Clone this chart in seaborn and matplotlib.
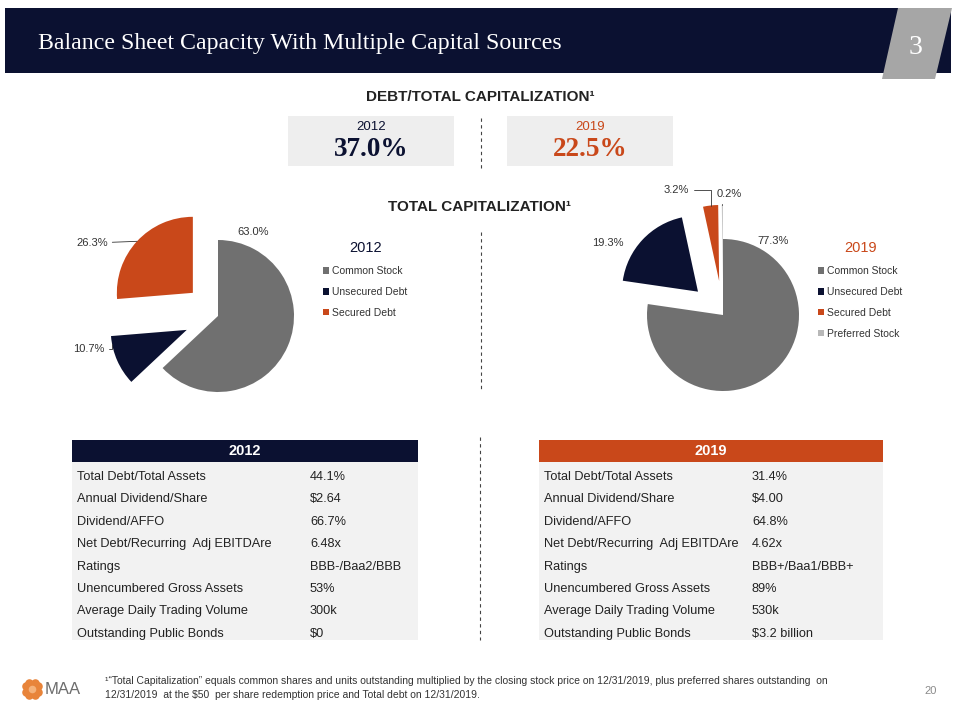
import numpy as np
import matplotlib
matplotlib.use('Agg')
import matplotlib.pyplot as plt
import seaborn as sns
from matplotlib.patches import Rectangle, Polygon

# ---------------------------------------------------------------- data
categories_2012 = ['Common Stock', 'Unsecured Debt', 'Secured Debt']
shares_2012 = [63.0, 10.7, 26.3]
categories_2019 = ['Common Stock', 'Unsecured Debt', 'Secured Debt', 'Preferred Stock']
shares_2019 = [77.3, 19.3, 3.2, 0.2]

debt_cap_years = ['2012', '2019']
debt_cap_values = [37.0, 22.5]

metrics = ['Total Debt/Total Assets', 'Annual Dividend/Share', 'Dividend/AFFO',
           'Net Debt/Recurring  Adj EBITDAre', 'Ratings', 'Unencumbered Gross Assets',
           'Average Daily Trading Volume', 'Outstanding Public Bonds']
values_2012 = ['44.1%', '$2.64', '66.7%', '6.48x', 'BBB-/Baa2/BBB', '53%', '300k', '$0']
values_2019 = ['31.4%', '$4.00', '64.8%', '4.62x', 'BBB+/Baa1/BBB+', '89%', '530k', '$3.2 billion']

footnote = ('\u00b9\u201cTotal Capitalization\u201d equals common shares and units outstanding multiplied by the closing '
            'stock price on 12/31/2019, plus preferred shares outstanding  on\n'
            '12/31/2019  at the $50  per share redemption price and Total debt on 12/31/2019.')

# ---------------------------------------------------------------- style
sns.set_theme(style='white')
plt.rcParams['font.family'] = ['Liberation Sans', 'DejaVu Sans']
NAVY = '#0b1131'
ORANGE = '#c9481a'
GRAY = '#707070'
LGRAY = '#b8b8b8'
pie_colors_2012 = [GRAY, NAVY, ORANGE]
pie_colors_2019 = [GRAY, NAVY, ORANGE, LGRAY]

fig = plt.figure(figsize=(9.6, 7.2), dpi=100)
bg = fig.add_axes([0, 0, 1, 1])
bg.set_xlim(0, 960)
bg.set_ylim(720, 0)
bg.axis('off')

# header bar
bg.add_patch(Rectangle((5, 8), 946, 65, color=NAVY, lw=0))
bg.add_patch(Polygon([(898, 8), (952, 8), (935, 79), (882, 79)], closed=True, color='#a6a6a6', lw=0))
bg.text(38, 43, 'Balance Sheet Capacity With Multiple Capital Sources', color='white',
        fontsize=17.2, family='Liberation Serif', va='center')
bg.text(915, 47, '3', color='white', fontsize=20, family='Liberation Serif', ha='center', va='center')

# debt / total capitalization boxes
bg.text(480, 97, 'DEBT/TOTAL CAPITALIZATION\u00b9', fontsize=11, fontweight='bold', color='#222222',
        ha='center', va='center')
for i, (yr, val) in enumerate(zip(debt_cap_years, debt_cap_values)):
    x0 = 288 + i * 219
    col = NAVY if i == 0 else ORANGE
    bg.add_patch(Rectangle((x0, 116), 166, 50, color='#eeeeee', lw=0))
    bg.text(x0 + 83, 127, yr, fontsize=9.5, color=col, ha='center', va='center')
    bg.text(x0 + 83, 150, f'{val:.1f}%', fontsize=19.5, fontweight='bold', color=col,
            family='Liberation Serif', ha='center', va='center')
bg.plot([481, 481], [118, 168], color='#444444', lw=0.8, ls=(0, (3, 3)))

bg.text(480, 207, 'TOTAL CAPITALIZATION\u00b9', fontsize=11, fontweight='bold', color='#222222',
        ha='center', va='center')
bg.plot([481, 481], [232, 392], color='#444444', lw=0.8, ls=(0, (3, 3)))
bg.plot([480, 480], [437, 640], color='#444444', lw=0.8, ls=(0, (3, 3)))


# ---------------------------------------------------------------- pies
def pie_axes(cx, cy, r):
    return fig.add_axes([(cx - 2 * r) / 960, 1 - (cy + 2 * r) / 720, 4 * r / 960, 4 * r / 720])


def draw_pie(ax, shares, colors, explode, labels_layout):
    wedges, _ = ax.pie(shares, colors=colors, explode=explode, startangle=90, counterclock=False,
                       wedgeprops=dict(linewidth=0))
    ax.set_xlim(-2, 2)
    ax.set_ylim(-2, 2)
    ax.set_aspect('equal')
    ax.axis('off')
    for w, val, (tx, ty, frac, leader, style) in zip(wedges, shares, labels_layout):
        ang = np.deg2rad(w.theta1 + frac * (w.theta2 - w.theta1))
        px = w.center[0] + w.r * np.cos(ang)
        py = w.center[1] + w.r * np.sin(ang)
        props = dict(arrowstyle='-', color='#333333', lw=0.6, shrinkA=1, shrinkB=0,
                     connectionstyle=style) if leader else None
        ax.annotate(f'{val:.1f}%', xy=(px, py), xytext=(tx, ty), fontsize=8, color='#333333',
                    ha='center', va='center', arrowprops=props)
    return wedges


def add_legend(ax, wedges, cats, title, x, tcol):
    leg = ax.legend(wedges, cats, loc='upper left', bbox_to_anchor=(x / 960, 1 - 236 / 720),
                    bbox_transform=fig.transFigure, frameon=False, title=title, fontsize=7.5,
                    handlelength=0.55, handleheight=0.55, handletextpad=0.3, labelspacing=1.05,
                    borderpad=0, title_fontproperties={'size': 10.5})
    leg.get_title().set_color(tcol)
    for t in leg.get_texts():
        t.set_color('#333333')


ax1 = pie_axes(218, 316, 76)
w1 = draw_pie(ax1, shares_2012, pie_colors_2012, [0, 0.45, 0.45],
              [(0.46, 1.10, 0.5, False, None),
               (-1.70, -0.43, 0.15, True, 'angle,angleA=0,angleB=90,rad=0'),
               (-1.66, 0.96, 0.5, True, 'arc3')])
add_legend(ax1, w1, categories_2012, '2012', 318, NAVY)

ax2 = pie_axes(723, 315, 76)
w2 = draw_pie(ax2, shares_2019, pie_colors_2019, [0, 0.45, 0.45, 0.45],
              [(0.66, 0.97, 0.5, False, None),
               (-1.51, 0.95, 0.5, False, None),
               (-0.61, 1.64, 0.5, True, 'angle,angleA=0,angleB=90,rad=0'),
               (0.08, 1.59, 0.5, True, 'angle,angleA=180,angleB=90,rad=0')])
add_legend(ax2, w2, categories_2019, '2019', 813, ORANGE)

# ---------------------------------------------------------------- tables
row_h = 22.4
for x0, x1, xv, yr, col, vals in [(72, 418, 310, '2012', NAVY, values_2012),
                                 (539, 883, 752, '2019', ORANGE, values_2019)]:
    bg.add_patch(Rectangle((x0, 440), x1 - x0, 22, color=col, lw=0))
    bg.text((x0 + x1) / 2, 451, yr, color='white', fontsize=10.5, fontweight='bold',
            ha='center', va='center')
    bg.add_patch(Rectangle((x0, 462), x1 - x0, 178, color='#f2f2f2', lw=0))
    for i, (m, v) in enumerate(zip(metrics, vals)):
        y = 477 + i * row_h
        bg.text(x0 + 5, y, m, fontsize=9.2, color='#222222', va='center')
        bg.text(xv, y, v, fontsize=9.2, color='#222222', va='center')

# ---------------------------------------------------------------- footer
ang = np.linspace(0, 2 * np.pi, 8, endpoint=False) + np.pi / 8
bg.scatter(32 + 7 * np.cos(ang), 689 + 7 * np.sin(ang), s=38, marker='o', color='#e8843a', lw=0)
bg.scatter([32], [689], s=30, marker='o', color='#f5b27a', lw=0)
bg.text(45, 689, 'MAA', fontsize=12, color='#6d6d6d', va='center')
bg.text(105, 688, footnote, fontsize=7.5, color='#333333', va='center', linespacing=1.55)
bg.text(931, 691, '20', fontsize=8, color='#8a8a8a', ha='center', va='center')

fig.savefig('out.png', dpi=100)
